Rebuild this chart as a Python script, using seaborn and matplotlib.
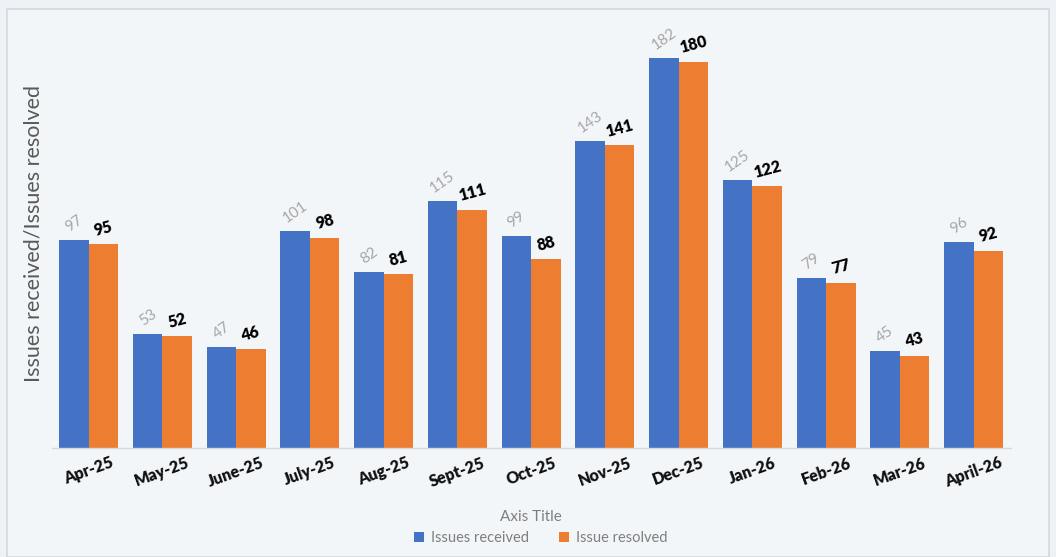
import matplotlib
matplotlib.use("Agg")
import matplotlib.pyplot as plt
import seaborn as sns
import pandas as pd
from matplotlib.patches import Rectangle

months = ["Apr-25", "May-25", "June-25", "July-25", "Aug-25", "Sept-25", "Oct-25",
          "Nov-25", "Dec-25", "Jan-26", "Feb-26", "Mar-26", "April-26"]
received = [97, 53, 47, 101, 82, 115, 99, 143, 182, 125, 79, 45, 96]
resolved = [95, 52, 46, 98, 81, 111, 88, 141, 180, 122, 77, 43, 92]
series_names = ["Issues received", "Issue resolved"]

df = pd.DataFrame({
    "Month": months * 2,
    "Value": received + resolved,
    "Series": [series_names[0]] * len(months) + [series_names[1]] * len(months),
})

sns.set_theme(style="white")
plt.rcParams["font.family"] = ["Lato", "DejaVu Sans"]

fig = plt.figure(figsize=(10.56, 5.57), dpi=100, facecolor="#eef2f6")
fig.patches.append(Rectangle((7 / 1056, 0), 1 - 14 / 1056, 1 - 9 / 557,
                             transform=fig.transFigure, facecolor="#f3f6f9",
                             edgecolor="#d3d8dd", linewidth=1.2, zorder=-1))
ax = fig.add_axes([0.049, 0.196, 0.908, 0.77])
ax.set_facecolor("none")

sns.barplot(data=df, x="Month", y="Value", hue="Series", order=months,
            hue_order=series_names, palette=["#4472C4", "#ED7D31"],
            width=0.8, saturation=1, ax=ax, legend=True, linewidth=0)

ax.set_ylim(0, 200)
ax.set_xlim(-0.5, len(months) - 0.5)
ax.set_yticks([])
for s in ["top", "right", "left"]:
    ax.spines[s].set_visible(False)
ax.spines["bottom"].set_color("#d9d9d9")
ax.spines["bottom"].set_linewidth(1)

c_rec, c_res = ax.containers[0], ax.containers[1]
ax.bar_label(c_rec, labels=[str(v) for v in received], padding=4, rotation=35,
             color="#a6a6a6", fontsize=11)
ax.bar_label(c_res, labels=[str(v) for v in resolved], padding=4, rotation=15,
             color="#000000", fontsize=11.5, fontweight="heavy")

ax.set_xticks(range(len(months)))
ax.set_xticklabels(months, rotation=20, fontsize=11.5, fontweight="heavy",
                   color="#111111", ha="center")
ax.tick_params(axis="x", length=0, pad=5)

ax.set_xlabel("Axis Title", fontsize=11, color="#7f7f7f", labelpad=14)
ax.set_ylabel("Issues received/Issues resolved", fontsize=15.5, color="#595959",
              labelpad=6)

leg = ax.legend(loc="center", bbox_to_anchor=(0.51, -0.21), ncol=2,
                frameon=False, fontsize=10.5, handlelength=0.7, handleheight=0.7,
                columnspacing=2.0, handletextpad=0.5)
for t in leg.get_texts():
    t.set_color("#7f7f7f")

fig.savefig("out.png", dpi=100, facecolor=fig.get_facecolor())
